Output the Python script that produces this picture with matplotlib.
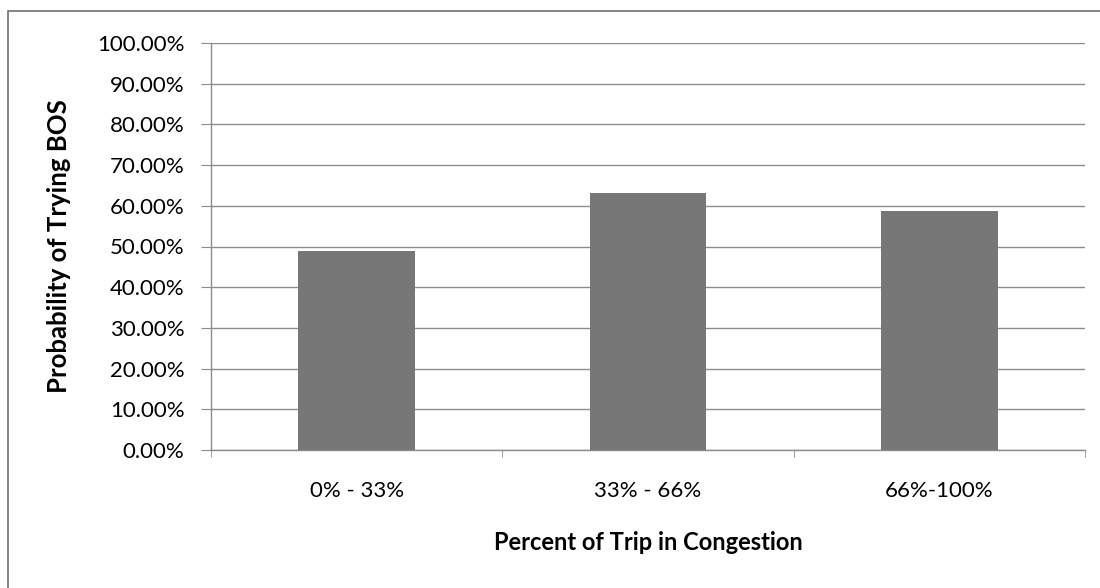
import matplotlib
matplotlib.use('Agg')
import matplotlib.pyplot as plt
from matplotlib.ticker import FuncFormatter, FixedLocator
from matplotlib.patches import Rectangle

# congestion share of trip vs probability of trying BOS
categories = ['0% - 33%', '33% - 66%', '66%-100%']
probabilities = [48.8, 63.1, 58.6]
y_ticks = [0, 10, 20, 30, 40, 50, 60, 70, 80, 90, 100]

plt.rcParams['font.family'] = ['Lato', 'DejaVu Sans']

fig = plt.figure(figsize=(11, 5.88), dpi=100)
ax = fig.add_axes([211 / 1100, 1 - 450 / 588, 874 / 1100, 407 / 588])

x = list(range(len(categories)))
ax.bar(x, probabilities, width=0.4, color='#777777', zorder=3)

ax.set_xlim(-0.5, len(categories) - 0.5)
ax.set_ylim(0, 100)
ax.yaxis.set_major_locator(FixedLocator(y_ticks))
ax.yaxis.set_major_formatter(FuncFormatter(lambda v, p: f'{v:.2f}%'))
ax.set_xticks(x)
ax.set_xticklabels(categories)
ax.xaxis.set_minor_locator(FixedLocator([-0.5, 0.5, 1.5, 2.5]))

ax.grid(axis='y', color='#8c8c8c', linewidth=1.0, zorder=0)
for side in ['top', 'right']:
    ax.spines[side].set_visible(False)
for side in ['left', 'bottom']:
    ax.spines[side].set_color('#8c8c8c')
    ax.spines[side].set_linewidth(1.0)

ax.tick_params(axis='y', direction='out', length=7, color='#8c8c8c', labelsize=16, pad=12)
ax.tick_params(axis='x', which='major', length=0, labelsize=16, pad=22)
ax.tick_params(axis='x', which='minor', direction='out', length=5, color='#8c8c8c')

ax.set_ylabel('Probability of Trying BOS', fontsize=18.5, fontweight='bold', labelpad=19)
ax.set_xlabel('Percent of Trip in Congestion', fontsize=17, fontweight='bold', labelpad=22)

# chart frame (only top and left edges fall inside the image)
fig.patches.append(Rectangle((8 / 1100, -20 / 588), 1200 / 1100, 597 / 588,
                             transform=fig.transFigure, fill=False,
                             edgecolor='#707070', linewidth=1.2))

fig.savefig('out.png', dpi=100)
